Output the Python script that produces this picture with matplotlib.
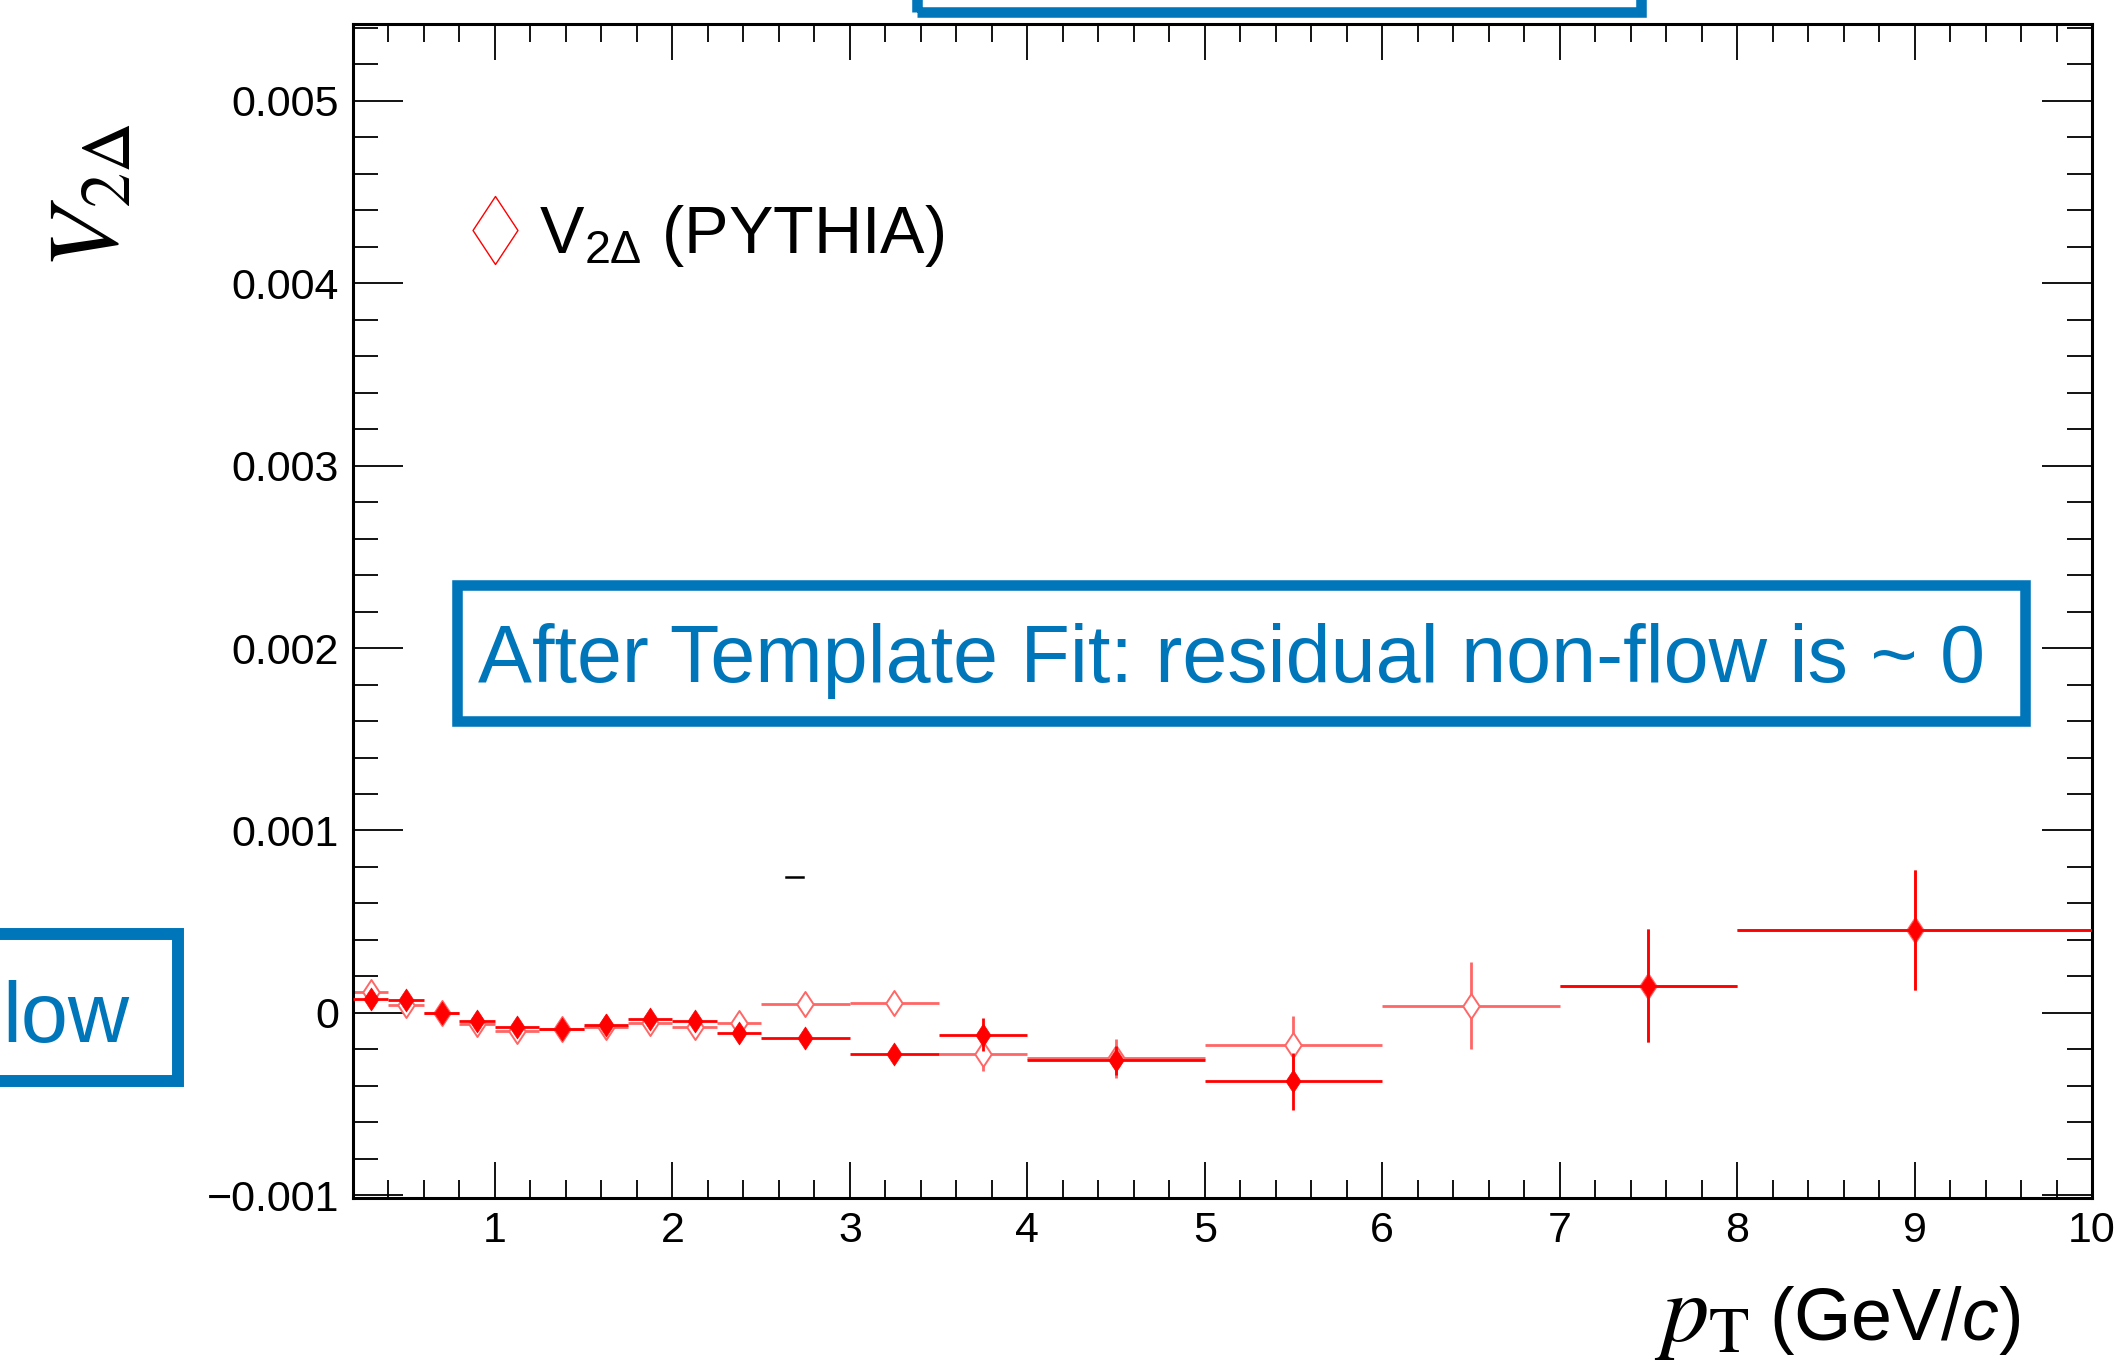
import numpy as np
import matplotlib
matplotlib.use('Agg')
import matplotlib.pyplot as plt
from matplotlib.lines import Line2D
from matplotlib.patches import Rectangle
from matplotlib.path import Path
from matplotlib.ticker import FixedLocator, FixedFormatter, MultipleLocator

# pT bins (GeV/c)
bin_lo = [0.2, 0.4, 0.6, 0.8, 1.0, 1.25, 1.5, 1.75, 2.0, 2.25, 2.5, 3.0, 3.5, 4.0, 5.0, 6.0, 7.0, 8.0]
bin_hi = [0.4, 0.6, 0.8, 1.0, 1.25, 1.5, 1.75, 2.0, 2.25, 2.5, 3.0, 3.5, 4.0, 5.0, 6.0, 7.0, 8.0, 10.0]

# V2Delta, PYTHIA (open markers)
v2d_pythia = [1.17e-4, 0.44e-4, 0.0, -0.62e-4, -0.97e-4, -0.90e-4, -0.77e-4, -0.57e-4, -0.79e-4,
              -0.53e-4, 0.50e-4, 0.55e-4, -2.25e-4, -2.50e-4, -1.75e-4, 0.40e-4, 1.50e-4, 4.55e-4]
v2d_pythia_err = [2e-5, 2e-5, 2e-5, 2e-5, 2e-5, 2e-5, 2e-5, 2e-5, 2e-5,
                  2e-5, 3e-5, 3e-5, 0.95e-4, 1.05e-4, 1.6e-4, 2.4e-4, 3.1e-4, 3.3e-4]

# V2Delta after template fit (filled markers), no point in 6-7 bin
v2d_fit = [0.75e-4, 0.71e-4, 0.0, -0.44e-4, -0.80e-4, -0.90e-4, -0.68e-4, -0.33e-4, -0.42e-4,
           -1.08e-4, -1.38e-4, -2.25e-4, -1.20e-4, -2.60e-4, -3.75e-4, np.nan, 1.50e-4, 4.55e-4]
v2d_fit_err = [2e-5, 2e-5, 2e-5, 2e-5, 2e-5, 2e-5, 2e-5, 2e-5, 2e-5,
               2e-5, 2e-5, 4e-5, 0.9e-4, 0.8e-4, 1.55e-4, np.nan, 3.1e-4, 3.3e-4]

x_ticks = [1, 2, 3, 4, 5, 6, 7, 8, 9, 10]
x_ticklabels = ['1', '2', '3', '4', '5', '6', '7', '8', '9', '10']
y_ticks = [-0.001, 0.0, 0.001, 0.002, 0.003, 0.004, 0.005]
y_ticklabels = ['\u22120.001', '0', '0.001', '0.002', '0.003', '0.004', '0.005']

plt.rcParams['font.family'] = ['Liberation Sans', 'DejaVu Sans']
plt.rcParams['mathtext.fontset'] = 'custom'
plt.rcParams['mathtext.rm'] = 'Liberation Sans'
plt.rcParams['mathtext.it'] = 'Liberation Sans:italic'
plt.rcParams['mathtext.bf'] = 'Liberation Sans:bold'

W, H = 2115, 1366
fig = plt.figure(figsize=(W / 100, H / 100), dpi=100)

def fx(px):
    return px / W

def fy(py):
    return 1 - py / H

ax = fig.add_axes([fx(353), fy(1198), fx(2092) - fx(353), fy(24) - fy(1198)])

diamond = Path([(0, 1), (0.66, 0), (0, -1), (-0.66, 0), (0, 1)],
               [Path.MOVETO, Path.LINETO, Path.LINETO, Path.LINETO, Path.CLOSEPOLY])

lo = np.array(bin_lo)
hi = np.array(bin_hi)
xc = (lo + hi) / 2
xe = (hi - lo) / 2

light = '#ff6666'
red = '#ff0000'

ax.errorbar(xc, v2d_pythia, xerr=xe, yerr=v2d_pythia_err, fmt='none', ecolor=light,
            elinewidth=2, capsize=0, zorder=2)
ax.plot(xc, v2d_pythia, ls='none', marker=diamond, ms=18, mfc='white', mec=light, mew=1.4, zorder=3)
ax.errorbar(xc, v2d_fit, xerr=xe, yerr=v2d_fit_err, fmt='none', ecolor=red,
            elinewidth=2, capsize=0, zorder=4)
ax.plot(xc, v2d_fit, ls='none', marker=diamond, ms=16.5, mfc=red, mec=red, mew=0.5, zorder=5)

ax.set_xlim(0.2, 10)
ax.set_ylim(-0.001015, 0.005422)

ax.xaxis.set_major_locator(FixedLocator(x_ticks))
ax.xaxis.set_major_formatter(FixedFormatter(x_ticklabels))
ax.xaxis.set_minor_locator(MultipleLocator(0.2))
ax.yaxis.set_major_locator(FixedLocator(y_ticks))
ax.yaxis.set_major_formatter(FixedFormatter(y_ticklabels))
ax.yaxis.set_minor_locator(MultipleLocator(0.0002))

ax.tick_params(axis='both', which='both', direction='in', top=True, right=True, width=1.3, labelsize=31)
ax.tick_params(axis='x', which='major', length=26, pad=9)
ax.tick_params(axis='x', which='minor', length=13)
ax.tick_params(axis='y', which='major', length=36, pad=10)
ax.tick_params(axis='y', which='minor', length=18)
for s in ax.spines.values():
    s.set_linewidth(2.2)

# axis titles
fig.text(fx(92), fy(196), r'$V_{2\Delta}$', rotation=90, ha='center', va='center',
         fontsize=72, math_fontfamily='stix')
fig.text(fx(1750), fy(1340), r'$p_{\mathrm{T}}$', ha='right', va='baseline',
         fontsize=68, math_fontfamily='stix')
fig.text(fx(2020), fy(1340), r'(GeV/$c$)', ha='right', va='baseline', fontsize=53)

# legend entry
handle = Line2D([], [], ls='none', marker=diamond, ms=49, mfc='none', mec=red, mew=1)
ax.legend([handle], [r'V$_{2\Delta}$ (PYTHIA)'], loc='center left',
          bbox_to_anchor=(fx(462), fy(236)), bbox_transform=fig.transFigure,
          frameon=False, fontsize=48, handlelength=1.0, handletextpad=0.15,
          borderpad=0, borderaxespad=0)

# blue annotation boxes
blue = '#0076ba'
fig.add_artist(Rectangle((fx(456.5), fy(721)), fx(2025) - fx(456.5), fy(584.5) - fy(721),
                         transform=fig.transFigure, fill=False, ec=blue, lw=7.6))
fig.text(fx(478), fy(682), 'After Template Fit: residual non-flow is ~ 0', ha='left',
         va='baseline', fontsize=58.2, color=blue)

fig.add_artist(Rectangle((fx(917), fy(12)), fx(1641) - fx(917), 0.2,
                         transform=fig.transFigure, fill=False, ec=blue, lw=7.6))

fig.add_artist(Rectangle((fx(-200), fy(1081)), fx(178) - fx(-200), fy(933.5) - fy(1081),
                         transform=fig.transFigure, fill=False, ec=blue, lw=8.6))
fig.text(fx(129), fy(1042), 'low', ha='right', va='baseline', fontsize=61, color=blue)

# small stray mark
fig.add_artist(Line2D([fx(786), fx(803)], [fy(877), fy(877)], transform=fig.transFigure,
                      color='black', lw=1.8))

fig.savefig('out.png', dpi=100)
